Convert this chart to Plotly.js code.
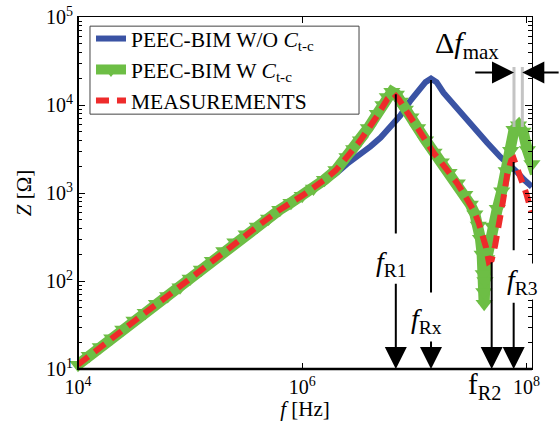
<!DOCTYPE html>
<html><head><meta charset="utf-8">
<script src="https://cdn.plot.ly/plotly-3.0.1.min.js"></script>
<style>body{margin:0;background:#fff;} #chart{width:559px;height:421px;}</style>
</head><body><div id="chart"></div>
<script>
// PEEC-BIM without turn-to-core capacitance
const freqWo = [1.0e4, 3.16e4, 1.0e5, 3.16e5, 1.0e6, 1.58e6, 2.0e6, 2.51e6, 3.16e6, 4.07e6, 5.01e6, 6.17e6, 7.50e6, 9.25e6, 1.12e7, 1.26e7, 1.41e7, 1.58e7, 1.82e7, 2.09e7, 2.40e7, 2.97e7, 3.55e7, 4.47e7, 5.86e7, 6.92e7, 8.22e7, 9.55e7, 1.12e8];
const zWo = [11.2, 35.5, 107, 339, 933, 1349, 1660, 2138, 2630, 3388, 4266, 5623, 7586, 11220, 15490, 18200, 19950, 18200, 13800, 11220, 9120, 6761, 5129, 3715, 2570, 2138, 1738, 1413, 1175];

// PEEC-BIM with turn-to-core capacitance
const freqW = [1.0e4, 1.26e4, 1.58e4, 2.0e4, 2.51e4, 3.16e4, 3.98e4, 5.01e4, 6.31e4, 8.13e4, 1.0e5, 1.26e5, 1.58e5, 2.0e5, 2.51e5, 3.16e5, 3.98e5, 5.01e5, 6.31e5, 7.94e5, 1.0e6, 1.26e6, 1.58e6, 2.0e6, 2.51e6, 2.88e6, 3.31e6, 3.89e6, 4.68e6, 5.25e6, 5.75e6, 6.31e6, 6.92e6, 7.50e6, 8.32e6, 9.33e6, 1.07e7, 1.26e7, 1.50e7, 1.74e7, 2.04e7, 2.42e7, 2.82e7, 3.16e7, 3.47e7, 3.72e7, 3.89e7, 4.03e7, 4.12e7, 4.17e7, 4.20e7, 4.27e7, 4.42e7, 4.68e7, 5.01e7, 5.50e7, 6.03e7, 6.61e7, 7.24e7, 7.76e7, 8.51e7, 9.33e7, 1.02e8, 1.12e8, 1.20e8];
const zW = [11.2, 14.1, 17.8, 22.4, 28.2, 35.5, 43.7, 55.0, 67.6, 85.1, 107, 135, 170, 219, 275, 339, 417, 513, 646, 776, 933, 1122, 1413, 1820, 2570, 3162, 3981, 5495, 7943, 10000, 12300, 14130, 13180, 10960, 8913, 7244, 5495, 3981, 2884, 2239, 1698, 1288, 955, 741, 575, 427, 302, 200, 120, 75, 55, 100, 178, 282, 417, 661, 1047, 1778, 3020, 5248, 5888, 5012, 3090, 2138, 1660];

// Measurements
const freqMeas = [1.0e4, 1.58e4, 2.51e4, 3.98e4, 6.31e4, 1.0e5, 1.58e5, 2.51e5, 3.98e5, 6.31e5, 1.0e6, 1.58e6, 2.0e6, 2.51e6, 3.31e6, 4.68e6, 5.75e6, 6.53e6, 7.24e6, 8.32e6, 9.33e6, 1.12e7, 1.50e7, 1.91e7, 2.42e7, 2.95e7, 3.39e7, 3.76e7, 4.05e7, 4.37e7, 4.62e7, 4.90e7, 5.25e7, 5.66e7, 6.17e7, 6.76e7, 7.33e7, 7.71e7, 8.32e7, 9.12e7, 1.0e8, 1.11e8];
const zMeas = [11.2, 17.8, 28.2, 43.7, 67.6, 107, 170, 275, 417, 646, 933, 1413, 1820, 2570, 3981, 7586, 11750, 13490, 11750, 8913, 7079, 5129, 2818, 1905, 1288, 851, 631, 457, 347, 240, 166, 174, 251, 407, 794, 1660, 2344, 2455, 1905, 1380, 977, 603];

// Axis ticks
const zTickVals = [10, 100, 1000, 10000, 100000];
const zTickText = ['10<sup>1</sup>', '10<sup>2</sup>', '10<sup>3</sup>', '10<sup>4</sup>', '10<sup>5</sup>'];
const fTickVals = [1e4, 1e6, 1e8];
const fTickText = ['10<sup>4</sup>', '10<sup>6</sup>', '10<sup>8</sup>'];
const zMinorTicks = [20, 30, 40, 50, 60, 70, 80, 90, 200, 300, 400, 500, 600, 700, 800, 900, 2000, 3000, 4000, 5000, 6000, 7000, 8000, 9000, 20000, 30000, 40000, 50000, 60000, 70000, 80000, 90000];

// Resonance markers: R1, Rx, R2, R3
const resFreq = [6.84e6, 1.41e7, 4.9e7, 7.7e7];
const resLabel = ['<i>f</i><sub>R1</sub>', '<i>f</i><sub>Rx</sub>', 'f<sub>R2</sub>', '<i>f</i><sub>R3</sub>'];
const resCurveZ = [13800, 19950, 170, 2344];   // connector starts on the curve
const resLineEndZ = [347, 74, null, 224];      // connector ends above label
const resArrowStartZ = [96.6, 21.4, 170, 59];  // arrow tail
const resLabelZ = [158, 35.5, null, 100];
const resLabelShift = [-4, -5, -7, 9];
// Delta f max bracket
const dfFreq = [7.75e7, 9.2e7];
const dfTopZ = 28200, dfBottomZ = 5620, dfArrowZ = 23400;
const dfArrowTail = [3.39e7, 2.0e8];
const dfLabelPos = [2.94e7, 47900];

const L = Math.log10;
const ann = [];
const base = {xref:'x', yref:'y', axref:'x', ayref:'y', text:'', showarrow:true, arrowcolor:'#000', arrowwidth:2, standoff:0, startstandoff:0};
for (let i = 0; i < resFreq.length; i++) {
  const fx = L(resFreq[i]);
  if (resLineEndZ[i] !== null) {
    ann.push(Object.assign({}, base, {x: fx, y: L(resLineEndZ[i]), ax: fx, ay: L(resCurveZ[i]), arrowhead: 0}));
  }
  ann.push(Object.assign({}, base, {x: fx, y: 1, ax: fx, ay: L(resArrowStartZ[i]), arrowhead: 2, arrowsize: 2.2}));
  if (resLabelZ[i] !== null) {
    ann.push({xref:'x', yref:'y', x: fx, y: L(resLabelZ[i]), text: resLabel[i], showarrow:false, xshift: resLabelShift[i], bgcolor:'#fff', borderpad:0, font:{size:28, color:'#000'}});
  } else {
    ann.push({xref:'x', yref:'paper', x: fx, y: -0.105, text: resLabel[i], showarrow:false, xshift: resLabelShift[i], font:{size:29, color:'#000'}});
  }
}
for (let i = 0; i < dfFreq.length; i++) {
  const fx = L(dfFreq[i]);
  ann.push(Object.assign({}, base, {x: fx, y: L(dfBottomZ), ax: fx, ay: L(dfTopZ), arrowhead: 0, arrowcolor:'rgba(190,190,190,0.9)', arrowwidth:3}));
  ann.push(Object.assign({}, base, {x: fx, y: L(dfArrowZ), ax: L(dfArrowTail[i]), ay: L(dfArrowZ), arrowhead: 2, arrowsize: 2.2}));
}
ann.push({xref:'x', yref:'y', x: L(dfLabelPos[0]), y: L(dfLabelPos[1]), text:'Δ<i>f</i><sub>max</sub>', showarrow:false, font:{size:30, color:'#000'}});

const traces = [
  {x: freqWo, y: zWo, mode:'lines', name:'PEEC-BIM W/O <i>C</i><sub>t-c</sub>', line:{color:'#3A53A4', width:6}},
  {x: freqW, y: zW, mode:'lines+markers', name:'PEEC-BIM W <i>C</i><sub>t-c</sub>', line:{color:'#6DBE45', width:11}, marker:{symbol:'triangle-down', size:15, color:'#6DBE45'}, cliponaxis:false},
  {x: freqMeas, y: zMeas, mode:'lines', name:'MEASUREMENTS', line:{color:'#EE2B2B', width:6, dash:'13px,8px'}},
  // invisible copy so that the minor-tick overlay axis is laid out
  {x: freqMeas, y: zMeas, yaxis:'y2', mode:'lines', line:{width:0, color:'rgba(0,0,0,0)'}, opacity:0, showlegend:false, hoverinfo:'skip'}
];

const layout = {
  width:559, height:421,
  margin:{l:78, r:27, t:17, b:52},
  paper_bgcolor:'#fff', plot_bgcolor:'#fff',
  font:{family:'"Liberation Serif", "Times New Roman", serif', size:20, color:'#000'},
  showlegend:true,
  legend:{x:0.0286, y:0.997, xanchor:'left', yanchor:'top', borderwidth:0, bgcolor:'rgba(0,0,0,0)', font:{size:21.5}, tracegroupgap:0},
  xaxis:{type:'log', range:[4, 8.05], tickvals: fTickVals, ticktext: fTickText, ticks:'inside', ticklen:6, tickwidth:1, tickcolor:'#000',
    showline:true, linecolor:'#000', linewidth:1, mirror:'ticks', showgrid:false, zeroline:false,
    title:{text:'<i>f</i> [Hz]', font:{size:21}, standoff:4}},
  yaxis:{type:'log', range:[1, 5], tickvals: zTickVals, ticktext: zTickText, ticks:'inside', ticklen:7, tickwidth:1, tickcolor:'#000',
    showline:true, linecolor:'#000', linewidth:1, mirror:'ticks', showgrid:false, zeroline:false,
    title:{text:'<i>Z</i> [Ω]', font:{size:21}, standoff:8}},
  yaxis2:{type:'log', range:[1, 5], overlaying:'y', side:'left', anchor:'x', tickvals: zMinorTicks, ticks:'inside', ticklen:4, tickwidth:1, tickcolor:'#000',
    showticklabels:false, showline:false, mirror:'ticks', showgrid:false, zeroline:false},
  shapes:[
    {type:'rect', xref:'paper', yref:'paper', x0:0.0264, x1:0.619, y0:0.724, y1:0.974, fillcolor:'#fff', line:{color:'#444', width:1}, layer:'above'},
    {type:'line', xref:'paper', yref:'paper', x0:0, x1:1, y0:0, y1:0, line:{color:'#000', width:2.5}, layer:'above'},
    {type:'line', xref:'paper', yref:'paper', x0:0, x1:0, y0:0, y1:1, line:{color:'#000', width:2}, layer:'above'}
  ],
  annotations: ann
};
Plotly.newPlot('chart', traces, layout, {displayModeBar:false, staticPlot:true});
</script></body></html>
